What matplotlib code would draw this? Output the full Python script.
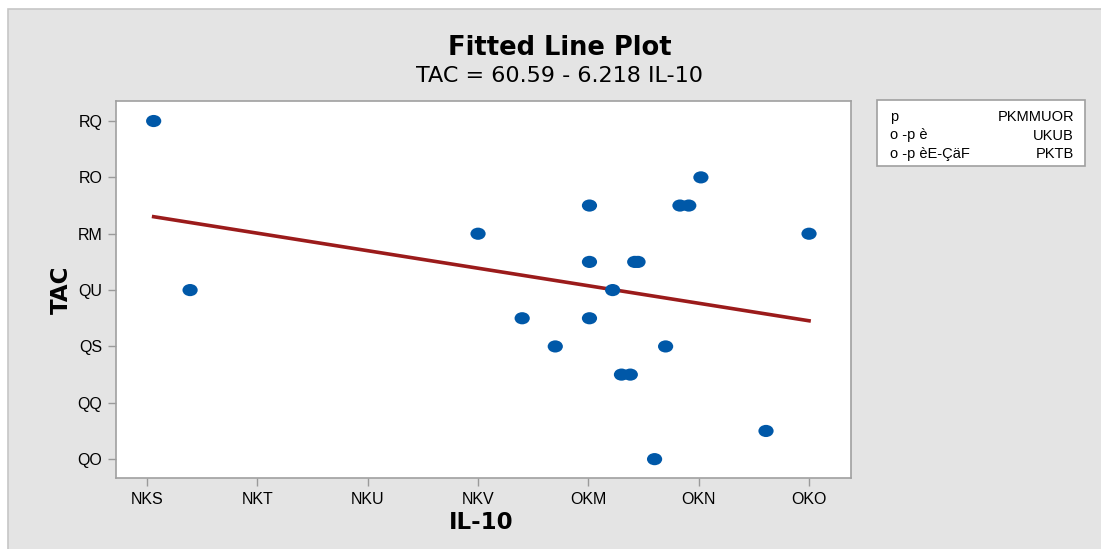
import numpy as np
import matplotlib
matplotlib.use("Agg")
import matplotlib.pyplot as plt
from matplotlib.path import Path
from matplotlib.patches import Rectangle
from matplotlib.ticker import FuncFormatter, FixedLocator

# data
il10 = [1.606, 1.639, 1.900, 1.940, 1.970, 2.001, 2.001, 2.001, 2.022,
        2.030, 2.038, 2.042, 2.045, 2.060, 2.070, 2.083, 2.091, 2.102,
        2.161, 2.200]
tac = [54, 48, 50, 47, 46, 51, 49, 47, 48,
       45, 45, 49, 49, 42, 46, 51, 51, 52,
       43, 50]
intercept = 60.59
slope = -6.218
x_ticks = [1.6, 1.7, 1.8, 1.9, 2.0, 2.1, 2.2]
y_ticks = [42, 44, 46, 48, 50, 52, 54]
stat_names = ["p", "o \u2010p è", "o \u2010p èE\u2010ÇäF"]
stat_values = ["3.00825", "8.8%", "3.7%"]

WIDE = ["DejaVu Sans"]
NARROW = ["Liberation Sans Narrow", "Liberation Sans", "DejaVu Sans"]


def garble(s):
    # the source rendered digits with a shifted symbol font
    out = ""
    for ch in s:
        if ch.isdigit():
            out += chr(0x4D + int(ch))
        elif ch == ".":
            out += "K"
        elif ch == "%":
            out += "B"
        else:
            out += ch
    return out


fig = plt.figure(figsize=(11.01, 5.49), dpi=100)
fig.patch.set_facecolor("white")
bg = Rectangle((0.0073, -0.01), 1.0, 0.9936, transform=fig.transFigure,
               facecolor="#e4e4e4", edgecolor="#c6c6c6", lw=1.2, zorder=-10)
fig.patches.append(bg)

ax = fig.add_axes([0.1054, 0.1293, 0.6676, 0.6867])
ax.set_zorder(1)
ax.set_facecolor("white")

xs = np.array([min(il10), max(il10)])
ax.plot(xs, intercept + slope * xs, color="#9b1b1b", lw=2.6, zorder=2)

# slightly wide oval marker like the original
circ = Path.unit_circle()
oval = Path(circ.vertices * np.array([1.25, 1.0]), circ.codes)
ax.scatter(il10, tac, marker=oval, s=120, color="#0058a8", edgecolor="none", zorder=3)

ax.set_xlim(1.5719, 2.2381)
ax.set_ylim(41.33, 54.71)
ax.xaxis.set_major_locator(FixedLocator(x_ticks))
ax.yaxis.set_major_locator(FixedLocator(y_ticks))
ax.xaxis.set_major_formatter(FuncFormatter(lambda v, p: garble(f"{v:.1f}")))
ax.yaxis.set_major_formatter(FuncFormatter(lambda v, p: garble(f"{v:.0f}")))
ax.tick_params(direction="out", length=6, width=1, color="#9a9a9a", pad=4)
for lab in ax.get_xticklabels() + ax.get_yticklabels():
    lab.set_family(NARROW)
    lab.set_fontsize(11.5)
for sp in ax.spines.values():
    sp.set_color("#a0a0a0")
    sp.set_linewidth(1.2)

fig.text(0.5086, 0.912, "Fitted Line Plot", ha="center", va="center",
         fontsize=18.5, fontweight="bold", family=WIDE)
fig.text(0.5086, 0.861, f"TAC = {intercept} - {abs(slope)} IL-10", ha="center", va="center",
         fontsize=16, family=WIDE)
fig.text(0.056, 0.472, "TAC", ha="center", va="center", rotation=90,
         fontsize=16.5, fontweight="bold", family=WIDE)
fig.text(0.437, 0.049, "IL-10", ha="center", va="center",
         fontsize=16.5, fontweight="bold", family=WIDE)

# stats box
box = Rectangle((877 / 1101, 1 - 166 / 549), 208 / 1101, 66 / 549,
                transform=fig.transFigure, facecolor="white",
                edgecolor="#a0a0a0", lw=1.2, zorder=1)
fig.patches.append(box)
for i, (name, val) in enumerate(zip(stat_names, stat_values)):
    y = 1 - (117 + i * 18.5) / 549
    fig.text(890 / 1101, y, name, ha="left", va="center", fontsize=10.5, family=NARROW, zorder=2)
    fig.text(1074 / 1101, y, garble(val), ha="right", va="center", fontsize=10.5, family=NARROW, zorder=2)

fig.savefig("out.png", dpi=100)
